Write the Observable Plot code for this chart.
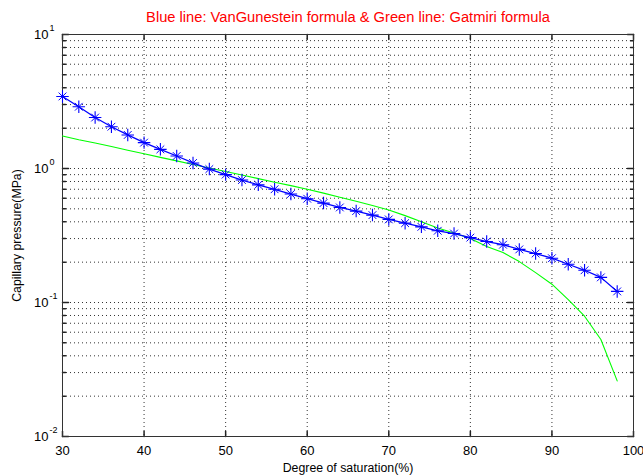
<!DOCTYPE html>
<html>
<head>
<meta charset="utf-8">
<script src="https://cdn.jsdelivr.net/npm/d3@7"></script>
<script src="https://cdn.jsdelivr.net/npm/@observablehq/plot@0.6"></script>
<style>
  html, body { margin: 0; padding: 0; background: #fff; }
  #chart svg { display: block; overflow: visible; }
</style>
</head>
<body>
<div id="chart"></div>
<script>
// ---- data ----
const saturation = [30,32,34,36,38,40,42,44,46,48,50,52,54,56,58,60,62,64,66,68,70,72,74,76,78,80,82,84,86,88,90,92,94,96,98];
const vanGenuchten = [3.45,2.89,2.40,2.05,1.78,1.56,1.39,1.24,1.10,0.99,0.90,0.82,0.755,0.70,0.645,0.595,0.552,0.512,0.481,0.449,0.417,0.391,0.367,0.343,0.327,0.305,0.285,0.27,0.249,0.232,0.214,0.193,0.174,0.154,0.121];
const gatmiri = [1.75,1.64,1.55,1.46,1.37,1.29,1.21,1.14,1.07,1.01,0.95,0.895,0.84,0.79,0.745,0.70,0.655,0.61,0.57,0.53,0.49,0.445,0.40,0.36,0.33,0.30,0.262,0.236,0.202,0.167,0.137,0.105,0.079,0.053,0.026];

const xTicks = [30,40,50,60,70,80,90,100];
const yDecades = [0.01,0.1,1,10];
const yExponents = ["-2","-1","0","1"];
const yMinor = [0.02,0.03,0.04,0.05,0.06,0.07,0.08,0.09,0.2,0.3,0.4,0.5,0.6,0.7,0.8,0.9,2,3,4,5,6,7,8,9];

const titleText = "Blue line: VanGunestein formula & Green line: Gatmiri formula";
const xLabel = "Degree of saturation(%)";
const yLabel = "Capillary pressure(MPa)";

const vgData = saturation.map((s, i) => ({s, p: vanGenuchten[i]}));
const gData = saturation.map((s, i) => ({s, p: gatmiri[i]}));
const yLabels = yDecades.map((v, i) => ({v, e: yExponents[i]}));

const tickShape = {draw(context, l) { context.moveTo(0, 0); context.lineTo(0, -l); }};
const font = "Liberation Sans, Arial, Helvetica, sans-serif";
const tickColor = "#222";

const chart = Plot.plot({
  width: 643,
  height: 475,
  marginLeft: 62,
  marginRight: 10,
  marginTop: 34,
  marginBottom: 39,
  style: {fontFamily: font, fontSize: "13px", color: "#000", background: "#fff"},
  x: {domain: [30, 100], ticks: xTicks, axis: null},
  y: {type: "log", domain: [0.01, 10], axis: null},
  marks: [
    // dotted grid
    Plot.ruleX(xTicks, {x: d => d, stroke: "#000", strokeOpacity: 0.8, strokeDasharray: "1,3"}),
    Plot.ruleY(yDecades.concat(yMinor), {y: d => d, stroke: "#000", strokeOpacity: 0.8, strokeDasharray: "1,3"}),
    // inward ticks
    Plot.vector(xTicks, {x: d => d, frameAnchor: "bottom", length: 5, rotate: 0, anchor: "start", shape: tickShape, stroke: tickColor}),
    Plot.vector(xTicks, {x: d => d, frameAnchor: "top", length: 5, rotate: 180, anchor: "start", shape: tickShape, stroke: tickColor}),
    Plot.vector(yDecades, {y: d => d, frameAnchor: "left", length: 6, rotate: 90, anchor: "start", shape: tickShape, stroke: tickColor}),
    Plot.vector(yDecades, {y: d => d, frameAnchor: "right", length: 6, rotate: -90, anchor: "start", shape: tickShape, stroke: tickColor}),
    Plot.vector(yMinor, {y: d => d, frameAnchor: "left", length: 3, rotate: 90, anchor: "start", shape: tickShape, stroke: tickColor}),
    Plot.vector(yMinor, {y: d => d, frameAnchor: "right", length: 3, rotate: -90, anchor: "start", shape: tickShape, stroke: tickColor}),
    Plot.frame({stroke: "#333"}),
    // tick labels
    Plot.text(xTicks, {x: d => d, text: d => String(d), frameAnchor: "bottom", dy: 14, textAnchor: "middle", lineAnchor: "middle", fontSize: 13}),
    Plot.text(yLabels, {y: "v", text: () => "10", frameAnchor: "left", dx: -14, textAnchor: "end", lineAnchor: "middle", fontSize: 13}),
    Plot.text(yLabels, {y: "v", text: "e", frameAnchor: "left", dx: -13, dy: -6, textAnchor: "start", lineAnchor: "middle", fontSize: 9}),
    // series
    Plot.line(gData, {x: "s", y: "p", stroke: "#00ff00", strokeWidth: 1.1}),
    Plot.line(vgData, {x: "s", y: "p", stroke: "#0000ff", strokeWidth: 1.3}),
    Plot.dot(vgData, {x: "s", y: "p", symbol: "plus", r: 4.1, stroke: "#0000ff", strokeWidth: 1.1}),
    Plot.dot(vgData, {x: "s", y: "p", symbol: "times", r: 3.6, stroke: "#0000ff", strokeWidth: 1}),
    // title and axis titles
    Plot.text([titleText], {frameAnchor: "top", dy: -17, textAnchor: "middle", lineAnchor: "middle", fill: "#ff0000", fontSize: 14.7}),
    Plot.text([xLabel], {frameAnchor: "bottom", dy: 32, textAnchor: "middle", lineAnchor: "middle", fontSize: 12.3}),
    Plot.text([yLabel], {frameAnchor: "left", dx: -45, rotate: -90, textAnchor: "middle", lineAnchor: "middle", fontSize: 12.3})
  ]
});
document.getElementById("chart").appendChild(chart);
</script>
</body>
</html>
